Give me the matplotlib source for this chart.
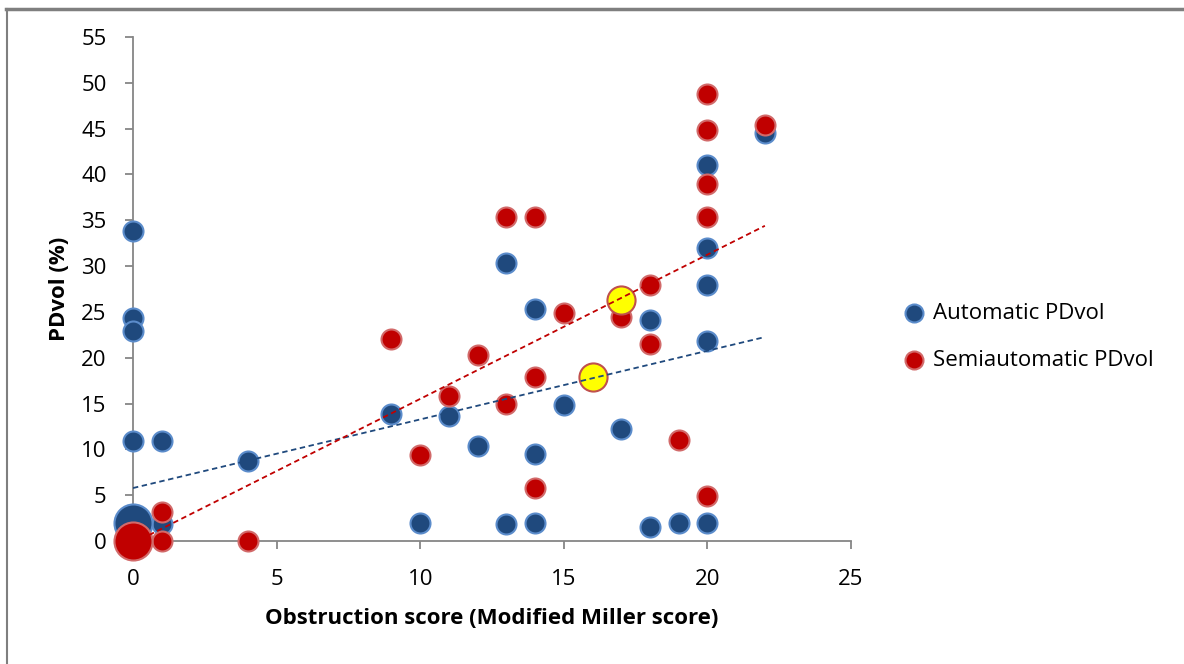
import matplotlib.pyplot as plt
from matplotlib.lines import Line2D
import numpy as np

plt.rcParams['font.family'] = ['Open Sans', 'DejaVu Sans']

# Automatic PDvol
auto_x = [0, 0, 0, 0, 1, 1, 4, 9, 10, 11, 12, 13, 13, 14, 14, 14, 15, 17, 18, 18, 19, 20, 20, 20, 20, 20, 22]
auto_y = [33.8, 24.3, 22.9, 10.9, 10.9, 1.9, 8.7, 13.9, 2.0, 13.6, 10.4, 30.3, 1.9, 25.3, 9.5, 2.0,
          14.8, 12.2, 24.1, 1.5, 2.0, 41.0, 32.0, 27.9, 21.8, 2.0, 44.5]
auto_big_x = [0]
auto_big_y = [2.0]

# Semiautomatic PDvol
semi_x = [1, 1, 4, 9, 10, 11, 12, 13, 13, 14, 14, 14, 15, 17, 18, 18, 19, 20, 20, 20, 20, 20, 22]
semi_y = [3.2, 0.0, 0.0, 22.0, 9.4, 15.8, 20.3, 35.4, 14.9, 35.4, 17.9, 5.8, 24.9, 24.4, 27.9, 21.5,
          11.0, 48.8, 44.8, 39.0, 35.4, 4.9, 45.4]
semi_big_x = [0]
semi_big_y = [0.0]

# highlighted (yellow) points
mark_x = [16, 17]
mark_y = [17.9, 26.3]

# linear trend lines (intercept, slope)
auto_trend = (5.78, 0.749)
semi_trend = (-0.23, 1.574)
trend_x = [0, 22]

blue_face, blue_edge = '#1F497D', '#5B8CCB'
red_face, red_edge = '#C00000', '#D26A6A'

fig = plt.figure(figsize=(11.84, 6.64), dpi=100)
ax = fig.add_axes([0.1123, 0.1852, 0.6065, 0.7591])

kw = dict(linewidths=1.5, clip_on=False)
ax.scatter(auto_x, auto_y, s=207, c=blue_face, edgecolors=blue_edge, zorder=3,
           label='Automatic PDvol', **kw)
ax.scatter(auto_big_x, auto_big_y, s=750, c=blue_face, edgecolors=blue_edge, zorder=3, **kw)
ax.scatter(semi_x, semi_y, s=207, c=red_face, edgecolors=red_edge, zorder=4,
           label='Semiautomatic PDvol', **kw)
ax.scatter(semi_big_x, semi_big_y, s=750, c=red_face, edgecolors=red_edge, zorder=4, **kw)
ax.scatter(mark_x, mark_y, s=410, c='#FFFF00', edgecolors='#C0504D', zorder=5, **kw)

tx = np.array(trend_x, dtype=float)
ax.plot(tx, auto_trend[0] + auto_trend[1] * tx, color=blue_face, lw=1.3, ls=(0, (3, 2)), zorder=6)
ax.plot(tx, semi_trend[0] + semi_trend[1] * tx, color=red_face, lw=1.3, ls=(0, (3, 2)), zorder=6)

ax.set_xlim(0, 25)
ax.set_ylim(0, 55)
ax.set_xticks(range(0, 26, 5))
ax.set_yticks(range(0, 56, 5))
for s in ['top', 'right']:
    ax.spines[s].set_visible(False)
for s in ['left', 'bottom']:
    ax.spines[s].set_color('#868686')
    ax.spines[s].set_linewidth(1.3)
    ax.spines[s].set_zorder(1)
ax.tick_params(axis='both', colors='#868686', labelcolor='black', labelsize=16, length=6, width=1.3)
ax.tick_params(axis='y', pad=13)
ax.tick_params(axis='x', pad=14)
ax.set_xlabel('Obstruction score (Modified Miller score)', fontsize=16, fontweight='bold', labelpad=13)
ax.set_ylabel('PDvol (%)', fontsize=16, fontweight='bold', labelpad=8)

leg = ax.legend(loc='center left', bbox_to_anchor=(1.045, 0.405), frameon=False, fontsize=16,
                markerscale=0.9, handletextpad=-0.15, labelspacing=1.2, borderaxespad=0)

# outer chart frame (top and left edges visible)
fig.add_artist(Line2D([0.005, 1.0], [0.987, 0.987], color='#7F7F7F', lw=2.5, transform=fig.transFigure))
fig.add_artist(Line2D([0.0058, 0.0058], [0.0, 0.987], color='#7F7F7F', lw=1.5, transform=fig.transFigure))

fig.savefig('out.png', dpi=100)
